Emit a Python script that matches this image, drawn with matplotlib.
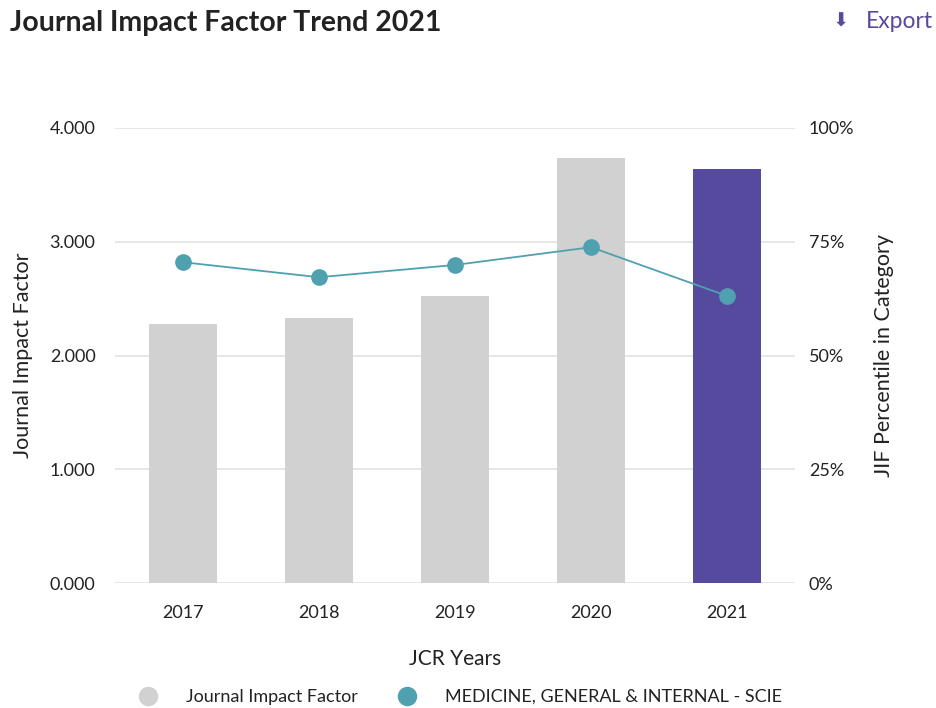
import matplotlib
matplotlib.use("Agg")
import matplotlib.pyplot as plt
from matplotlib.lines import Line2D
import numpy as np

years = ["2017", "2018", "2019", "2020", "2021"]
jif = [2.277, 2.330, 2.523, 3.736, 3.640]
percentile = [70.5, 67.2, 69.9, 73.8, 63.1]
left_ticks = [0, 1, 2, 3, 4]
left_labels = ["0.000", "1.000", "2.000", "3.000", "4.000"]
right_ticks = [0, 25, 50, 75, 100]
right_labels = ["0%", "25%", "50%", "75%", "100%"]

GREY = "#D0D1D0"
PURPLE = "#554A9E"
TEAL = "#4FA1B0"
TEXT = "#222222"
GRID = "#E3E3E3"

plt.rcParams["font.family"] = ["Lato", "DejaVu Sans"]

fig = plt.figure(figsize=(9.36, 7.08), dpi=100)
ax = fig.add_axes([115 / 936, 1 - 583 / 708, 680 / 936, 455 / 708])
x = np.arange(len(years))
colors = [GREY] * (len(years) - 1) + [PURPLE]
ax.bar(x, jif, width=0.5, color=colors, zorder=2)
ax.set_xlim(-0.5, len(years) - 0.5)
ax.set_ylim(0, 4)
ax.set_yticks(left_ticks)
ax.set_yticklabels(left_labels)
ax.set_xticks(x)
ax.set_xticklabels(years)
ax.grid(axis="y", color=GRID, linewidth=1.2, zorder=0)
for s in ax.spines.values():
    s.set_visible(False)
ax.tick_params(length=0, labelsize=13, colors=TEXT)
ax.tick_params(axis="x", pad=16)
ax.tick_params(axis="y", pad=14)
ax.set_xlabel("JCR Years", fontsize=15, color=TEXT, labelpad=20)
ax.set_ylabel("Journal Impact Factor", fontsize=15.5, color=TEXT, labelpad=12)

ax2 = ax.twinx()
ax2.plot(x, percentile, color=TEAL, linewidth=1.3, marker="o", markersize=11, zorder=3)
ax2.set_ylim(0, 100)
ax2.set_yticks(right_ticks)
ax2.set_yticklabels(right_labels)
for s in ax2.spines.values():
    s.set_visible(False)
ax2.tick_params(length=0, labelsize=13, colors=TEXT, pad=10)
ax2.set_ylabel("JIF Percentile in Category", fontsize=15.5, color=TEXT, labelpad=14)

fig.text(10 / 936, 1 - 23 / 708, "Journal Impact Factor Trend 2021", fontsize=20.5,
         fontweight="bold", color=TEXT, va="center", ha="left")
fig.text(841 / 936, 1 - 21 / 708, "\u2B07", fontsize=14, color=PURPLE, va="center", ha="center",
         family="DejaVu Sans")
fig.text(866 / 936, 1 - 22 / 708, "Export", fontsize=16.5, color=PURPLE, va="center", ha="left")

handles = [
    Line2D([], [], linestyle="none", marker="o", markersize=13, color=GREY),
    Line2D([], [], linestyle="none", marker="o", markersize=13, color=TEAL),
]
fig.legend(handles, ["Journal Impact Factor", "MEDICINE, GENERAL & INTERNAL - SCIE"],
           loc="center", bbox_to_anchor=(456 / 936, 1 - 697 / 708), ncol=2, frameon=False,
           fontsize=13, handletextpad=1.1, columnspacing=1.7, labelcolor=TEXT)

fig.savefig("out.png", dpi=100)
